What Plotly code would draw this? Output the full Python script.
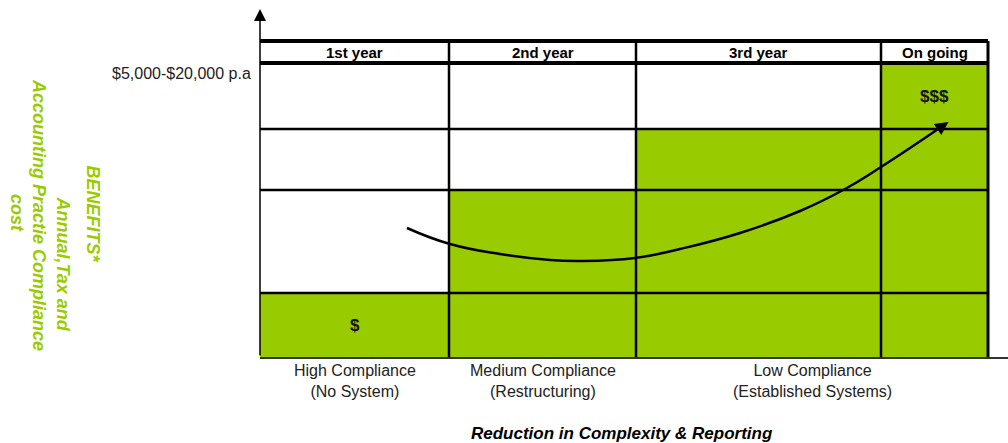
import plotly.graph_objects as go

# ---------------- data ----------------
periods = ["1st year", "2nd year", "3rd year", "On going"]
benefit_level = [1, 2, 3, 4]          # number of filled (green) rows per column
cell_labels = ["$", "", "", "$$$"]     # label in the top filled cell of each column
compliance_labels = ["High Compliance<br>(No System)",
                     "Medium Compliance<br>(Restructuring)",
                     "Low Compliance<br>(Established Systems)"]
compliance_span = [(0, 0), (1, 1), (2, 3)]  # column index ranges of each label
cost_label = "$5,000-$20,000 p.a"
x_title = "Reduction in Complexity & Reporting"
y_title_lines = ["BENEFITS*", "Annual,Tax and", "Accounting Practie Compliance", "cost"]
# trend curve (x, y), in axis units
trend_x = [147, 190, 240, 290, 320, 375, 420, 480, 540, 585, 621, 684]
trend_y = [129, 113, 103, 97, 96, 99, 108, 124, 146, 168, 190, 232]

# ---------------- layout constants ----------------
col_edges = [0, 189, 376, 621, 728]
row_edges = [0, 64, 167, 228, 294]
header_top = 316
GREEN = "#99CC00"
ML, MT, PW, PH = 260, 8, 748, 349


def px2paper(px, py):
    return (px - ML) / PW, (MT + PH - py) / PH


fig = go.Figure()

# green filled columns
centers = [(col_edges[i] + col_edges[i + 1]) / 2 for i in range(len(periods))]
widths = [col_edges[i + 1] - col_edges[i] for i in range(len(periods))]
fig.add_trace(go.Bar(
    x=centers, y=[row_edges[l] for l in benefit_level], width=widths, base=0,
    marker=dict(color=GREEN, line=dict(width=0)), hoverinfo="skip", showlegend=False))


# grid lines
def seg_trace(xs, ys, w):
    fig.add_trace(go.Scatter(x=xs, y=ys, mode="lines", line=dict(color="black", width=w),
                             hoverinfo="skip", showlegend=False))


gx, gy = [], []
for r in row_edges[1:4]:
    gx += [0, col_edges[-1], None]; gy += [r, r, None]
for c in col_edges[1:4]:
    gx += [c, c, None]; gy += [0, header_top, None]
seg_trace(gx, gy, 2.5)
hx, hy = [], []
for r in [row_edges[4], header_top]:
    hx += [0, col_edges[-1], None]; hy += [r, r, None]
seg_trace(hx, hy, 4)
seg_trace([col_edges[-1], col_edges[-1]], [0, header_top], 3)

# trend curve
fig.add_trace(go.Scatter(x=trend_x, y=trend_y, mode="lines",
                         line=dict(color="black", width=2.5, shape="spline", smoothing=1.3),
                         hoverinfo="skip", showlegend=False))

ann = []
# arrow head of trend
ann.append(dict(x=trend_x[-1] + 4.5, y=trend_y[-1] + 3, ax=trend_x[-1] - 8, ay=trend_y[-1] - 5.5,
                xref="x", yref="y", axref="x", ayref="y", showarrow=True,
                arrowhead=2, arrowsize=1.2, arrowwidth=2.2, arrowcolor="black", text=""))
# y axis arrow
ann.append(dict(x=0, y=348, ax=0, ay=0, xref="x", yref="y", axref="x", ayref="y",
                showarrow=True, arrowhead=2, arrowsize=1.6, arrowwidth=1.5,
                arrowcolor="black", text=""))

# header labels
for i, p in enumerate(periods):
    ann.append(dict(x=centers[i], y=(row_edges[4] + header_top) / 2, text="<b>" + p + "</b>",
                    xanchor="center", yanchor="middle",
                    showarrow=False, font=dict(size=15, color="black")))
# cell labels
for i, t in enumerate(cell_labels):
    if t:
        lv = benefit_level[i]
        ann.append(dict(x=centers[i], y=(row_edges[lv - 1] + row_edges[lv]) / 2,
                        text="<b>" + t + "</b>", showarrow=False,
                        xanchor="center", yanchor="middle",
                        font=dict(size=17, color="#111")))
# compliance labels (below the axis -> paper coords)
for lab, (a, b) in zip(compliance_labels, compliance_span):
    cx = ML + (col_edges[a] + col_edges[b + 1]) / 2
    x, y = px2paper(cx, 381)
    ann.append(dict(x=x, y=y, xref="paper", yref="paper", text=lab,
                    xanchor="center", yanchor="middle",
                    showarrow=False, font=dict(size=16, color="#222")))
# cost label
x, y = px2paper(253, 74)
ann.append(dict(x=x, y=y, xref="paper", yref="paper", text=cost_label,
                xanchor="right", yanchor="middle",
                showarrow=False, font=dict(size=16, color="#222")))
# x title
x, y = px2paper(622, 433)
ann.append(dict(x=x, y=y, xref="paper", yref="paper", text="<b><i>" + x_title + "</i></b>",
                xanchor="center", yanchor="middle",
                showarrow=False, font=dict(size=17, color="black")))
# y title lines
y_pos = [(92.5, 214), (62.5, 264), (39, 215), (17, 213)]
for line, (ppx, ppy) in zip(y_title_lines, y_pos):
    x, y = px2paper(ppx, ppy)
    ann.append(dict(x=x, y=y, xref="paper", yref="paper", text="<b><i>" + line + "</i></b>",
                    xanchor="center", yanchor="middle",
                    textangle=90, showarrow=False, font=dict(size=18, color=GREEN)))

fig.update_layout(
    width=1008, height=443,
    margin=dict(l=ML, r=0, t=MT, b=443 - MT - PH),
    paper_bgcolor="white", plot_bgcolor="white",
    font=dict(family="Liberation Sans, Arial, sans-serif"),
    xaxis=dict(range=[0, PW], showgrid=False, zeroline=False, showticklabels=False,
               ticks="", showline=True, linecolor="#333", linewidth=1.5, fixedrange=True),
    yaxis=dict(range=[0, PH], showgrid=False, zeroline=False, showticklabels=False,
               ticks="", showline=False, fixedrange=True),
    annotations=ann, showlegend=False, bargap=0,
)

fig.write_html("out.html")
